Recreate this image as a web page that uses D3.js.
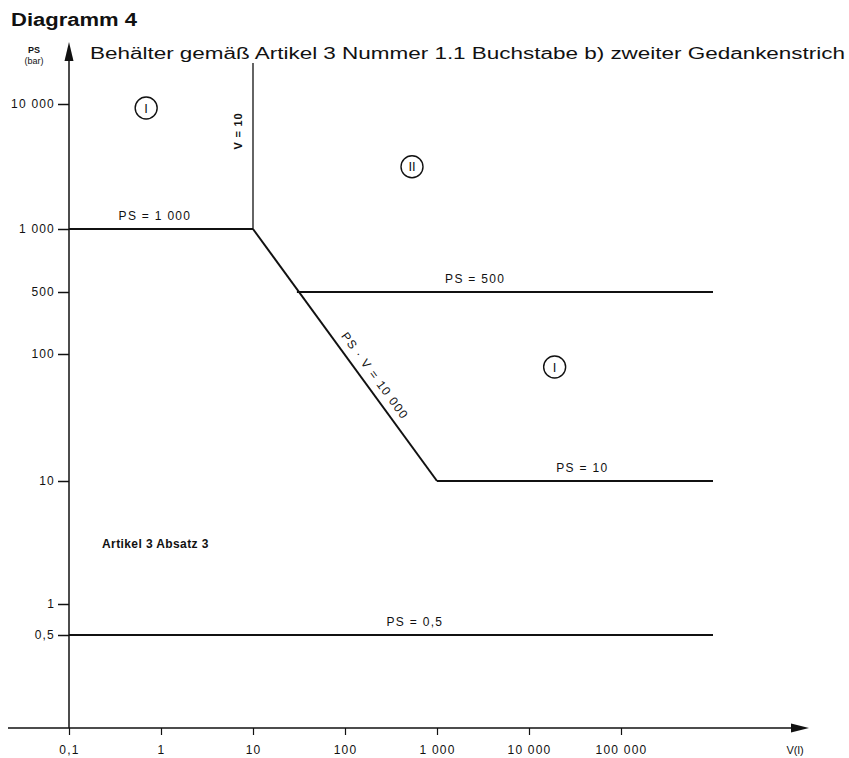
<!DOCTYPE html>
<html><head><meta charset="utf-8">
<script src="https://cdn.jsdelivr.net/npm/d3@7"></script>
<style>
html,body{margin:0;padding:0;background:#fff;}
svg{display:block;font-family:"Liberation Sans",Arial,sans-serif;}
</style></head>
<body>
<svg id="chart" width="849" height="758"></svg>
<script>
// ---- data ----
const xTickValues = [0.1, 1, 10, 100, 1000, 10000, 100000];
const xTickLabels = ["0,1", "1", "10", "100", "1 000", "10 000", "100 000"];
const yTickValues = [10000, 1000, 500, 100, 10, 1, 0.5];
const yTickLabels = ["10 000", "1 000", "500", "100", "10", "1", "0,5"];
// boundary lines: [V, PS] points
const linePS1000 = [[0.1, 1000], [10, 1000]];
const linePSV = [[10, 1000], [1000, 10]];
const linePS500 = [[30, 500], [1000000, 500]];
const linePS10 = [[1000, 10], [1000000, 10]];
const linePS05 = [[0.1, 0.5], [1000000, 0.5]];
const lineV10 = [[10, 1000], [10, 25000]];
// horizontal line labels: V at label centre, PS of the line
const hLabels = [
  {V: 0.86, PS: 1000, text: "PS = 1 000"},
  {V: 2600, PS: 500, text: "PS = 500"},
  {V: 38000, PS: 10, text: "PS = 10"},
  {V: 575, PS: 0.5, text: "PS = 0,5"}
];
const regionLabels = [
  {V: 0.69, PS: 9300, text: "I"},
  {V: 535, PS: 3150, text: "II"},
  {V: 19000, PS: 79, text: "I"}
];

const svg = d3.select("#chart");

// scales (the original drawing uses a stretched position for 500)
const x = d3.scaleLog().domain([0.1, 100000]).range([69, 621]);
const y = d3.scaleLog()
  .domain([0.5, 1, 10, 100, 500, 1000, 10000])
  .range([635, 604, 481, 354, 292, 229, 104]);

const ink = "#111";
const LS = "1.3px";

// Title
svg.append("text").attr("x", 11).attr("y", 26)
  .attr("font-size", 18).attr("font-weight", "bold").attr("fill", ink)
  .attr("textLength", 126).attr("lengthAdjust", "spacingAndGlyphs")
  .text("Diagramm 4");
svg.append("text").attr("x", 90).attr("y", 59)
  .attr("font-size", 16).attr("fill", ink)
  .attr("textLength", 755).attr("lengthAdjust", "spacingAndGlyphs")
  .text("Behälter gemäß Artikel 3 Nummer 1.1 Buchstabe b) zweiter Gedankenstrich");

// Axis titles
svg.append("text").attr("x", 34).attr("y", 53).attr("text-anchor", "middle")
  .attr("font-size", 9).attr("font-weight", "bold").attr("fill", ink).text("PS");
svg.append("text").attr("x", 34).attr("y", 64).attr("text-anchor", "middle")
  .attr("font-size", 9).attr("fill", ink).text("(bar)");
svg.append("text").attr("x", 795).attr("y", 754).attr("text-anchor", "middle")
  .attr("font-size", 11).attr("fill", ink).text("V(l)");

// axis lines with arrows
const x0 = x(0.1);
const yAxisBase = 728;
svg.append("line").attr("x1", x0).attr("x2", x0).attr("y1", 58).attr("y2", yAxisBase)
  .attr("stroke", ink).attr("stroke-width", 1.5);
svg.append("path").attr("d", `M${x0},42 L${x0-4.5},61 L${x0+4.5},61 Z`).attr("fill", ink);
svg.append("line").attr("x1", 8).attr("x2", 795).attr("y1", yAxisBase).attr("y2", yAxisBase)
  .attr("stroke", ink).attr("stroke-width", 1.6);
svg.append("path").attr("d", `M809,${yAxisBase} L791,${yAxisBase-4.5} L791,${yAxisBase+4.5} Z`).attr("fill", ink);

// y axis ticks
const yAxis = d3.axisLeft(y).tickValues(yTickValues)
  .tickFormat((d, i) => yTickLabels[i]).tickSize(11).tickPadding(3);
const gy = svg.append("g").attr("transform", `translate(${x0},0)`).call(yAxis);
gy.select(".domain").remove();
gy.selectAll(".tick line").attr("stroke", ink).attr("stroke-width", 1.5);
gy.selectAll(".tick text").attr("font-size", 12).attr("fill", ink)
  .attr("letter-spacing", "1.2px")
  .attr("font-family", "Liberation Sans, Arial, sans-serif");

// x axis ticks
const xAxis = d3.axisBottom(x).tickValues(xTickValues)
  .tickFormat((d, i) => xTickLabels[i]).tickSize(7).tickPadding(10);
const gx = svg.append("g").attr("transform", `translate(0,${yAxisBase})`).call(xAxis);
gx.select(".domain").remove();
gx.selectAll(".tick line").attr("stroke", ink).attr("stroke-width", 1.2);
gx.selectAll(".tick text").attr("font-size", 12).attr("fill", ink)
  .attr("letter-spacing", "1.2px")
  .attr("font-family", "Liberation Sans, Arial, sans-serif");

// boundary lines
const lineGen = d3.line().x(d => x(d[0])).y(d => y(d[1]));
[linePS1000, linePSV, linePS500, linePS10, linePS05].forEach(pts => {
  svg.append("path").attr("d", lineGen(pts)).attr("fill", "none")
    .attr("stroke", ink).attr("stroke-width", 2);
});
// V = 10 vertical line
svg.append("line").attr("x1", x(10)).attr("x2", x(10))
  .attr("y1", 63).attr("y2", y(1000))
  .attr("stroke", ink).attr("stroke-width", 1.3);

// line labels
function lbl(px, py, t, rot) {
  const g = svg.append("text").attr("font-size", 12).attr("fill", ink)
    .attr("letter-spacing", LS)
    .attr("text-anchor", "middle").text(t);
  if (rot !== undefined) g.attr("transform", `translate(${px},${py}) rotate(${rot})`);
  else g.attr("x", px).attr("y", py);
  return g;
}
hLabels.forEach(h => lbl(x(h.V), y(h.PS) - 9, h.text));
lbl(x(10) - 15, 131, "V = 10", -90).attr("dy", "0.35em").attr("font-weight", "bold")
  .attr("font-size", 11).attr("letter-spacing", "0.8px");
// diagonal label
{
  const ax = x(10), ay = y(1000), bx = x(1000), by = y(10);
  const rad = Math.atan2(by - ay, bx - ax);
  const ang = rad * 180 / Math.PI;
  const t = 0.61;
  const mx = ax + (bx - ax) * t, my = ay + (by - ay) * t;
  const off = 12;
  lbl(mx + Math.sin(rad) * off, my - Math.cos(rad) * off, "PS · V = 10 000", ang)
    .attr("dy", "0.35em");
}

// region labels (circled numerals)
regionLabels.forEach(r => {
  const cx = x(r.V), cy = y(r.PS);
  svg.append("circle").attr("cx", cx).attr("cy", cy).attr("r", 11)
    .attr("fill", "none").attr("stroke", ink).attr("stroke-width", 1.4);
  svg.append("text").attr("x", cx).attr("y", cy).attr("dy", "0.36em")
    .attr("text-anchor", "middle").attr("font-size", 13).attr("fill", ink).text(r.text);
});

// Artikel 3 Absatz 3
svg.append("text").attr("x", 102).attr("y", 548).attr("font-size", 12)
  .attr("font-weight", "bold").attr("letter-spacing", "0.4px")
  .attr("fill", ink).text("Artikel 3 Absatz 3");
</script>
</body></html>
